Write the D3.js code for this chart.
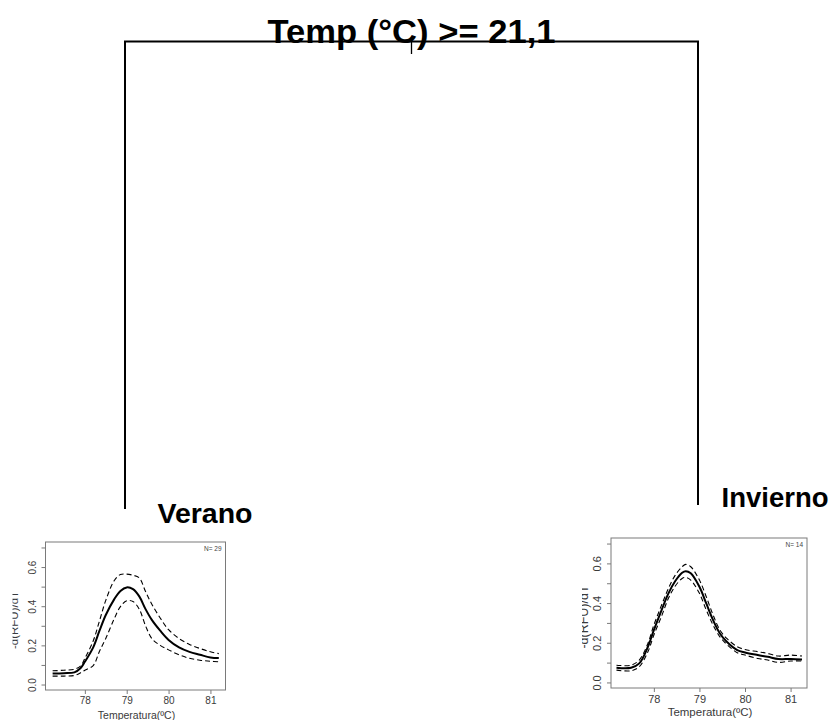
<!DOCTYPE html>
<html>
<head>
<meta charset="utf-8">
<script src="https://cdn.jsdelivr.net/npm/d3@7"></script>
<style>
  html, body { margin: 0; padding: 0; background: #fff; }
  svg { display: block; font-family: "Liberation Sans", Arial, sans-serif; }
</style>
</head>
<body>
<svg id="chart" width="840" height="720"></svg>
<script>
// Split rule of the regression tree and the labels of its two leaves
const splitLabel = "Temp (°C) >= 21,1";
const leafNames = ["Verano", "Invierno"];
const leafCounts = [29, 14];

// Axis ticks shared by both melting-curve panels
const xTicks = [78, 79, 80, 81];
const yTicks = [0, 0.1, 0.2, 0.3, 0.4, 0.5, 0.6, 0.7];
const yTickLabels = ["0.0", "", "0.2", "", "0.4", "", "0.6", ""];
const xLabel = "Temperatura(ºC)";
const yLabel = "-d(RFU)/dT";

// Verano leaf: mean melting curve with its upper and lower bands
const veranoTemp  = [77.23, 77.5, 77.75, 77.9, 78.0, 78.2, 78.35, 78.5, 78.7, 78.85, 79.0, 79.15, 79.3, 79.45, 79.6, 79.8, 80.0, 80.25, 80.5, 80.75, 81.0, 81.2];
const veranoMean  = [0.056, 0.058, 0.062, 0.084, 0.116, 0.19, 0.275, 0.355, 0.435, 0.478, 0.496, 0.487, 0.45, 0.385, 0.33, 0.275, 0.228, 0.19, 0.167, 0.152, 0.138, 0.135];
const veranoUpper = [0.07, 0.073, 0.078, 0.095, 0.133, 0.223, 0.325, 0.43, 0.53, 0.562, 0.564, 0.558, 0.545, 0.475, 0.41, 0.34, 0.28, 0.235, 0.205, 0.184, 0.167, 0.158];
const veranoLower = [0.043, 0.043, 0.046, 0.06, 0.073, 0.097, 0.17, 0.235, 0.335, 0.398, 0.428, 0.424, 0.385, 0.3, 0.235, 0.2, 0.177, 0.152, 0.134, 0.124, 0.119, 0.116];

// Invierno leaf: mean melting curve with its upper and lower bands
const inviernoTemp  = [77.18, 77.5, 77.68, 77.87, 78.0, 78.17, 78.32, 78.47, 78.62, 78.7, 78.81, 79.0, 79.15, 79.3, 79.45, 79.6, 79.83, 80.0, 80.28, 80.5, 80.73, 81.0, 81.25];
const inviernoMean  = [0.074, 0.074, 0.096, 0.18, 0.264, 0.365, 0.449, 0.511, 0.553, 0.561, 0.55, 0.482, 0.398, 0.314, 0.247, 0.205, 0.163, 0.151, 0.138, 0.129, 0.118, 0.118, 0.116];
const inviernoUpper = [0.087, 0.087, 0.113, 0.197, 0.289, 0.39, 0.474, 0.541, 0.583, 0.595, 0.583, 0.516, 0.432, 0.34, 0.264, 0.222, 0.18, 0.166, 0.155, 0.146, 0.133, 0.138, 0.133];
const inviernoLower = [0.062, 0.059, 0.079, 0.155, 0.239, 0.334, 0.424, 0.486, 0.524, 0.529, 0.516, 0.449, 0.365, 0.289, 0.23, 0.192, 0.15, 0.138, 0.121, 0.113, 0.101, 0.108, 0.108];

const svg = d3.select("#chart");

// ---- Tree skeleton -------------------------------------------------------
const tree = { left: 125, right: 698, top: 41.5, mid: 411.5, stem: 54, leftEnd: 509, rightEnd: 505 };
const treeG = svg.append("g").attr("stroke", "#000").attr("stroke-width", 2).attr("fill", "none");
treeG.append("path")
  .attr("d", `M${tree.left},${tree.leftEnd}V${tree.top}H${tree.right}V${tree.rightEnd}`);
treeG.append("line")
  .attr("x1", tree.mid).attr("x2", tree.mid)
  .attr("y1", tree.top).attr("y2", tree.stem)
  .attr("stroke-width", 1.3);

svg.append("text")
  .attr("x", tree.mid).attr("y", 43)
  .attr("text-anchor", "middle")
  .attr("font-size", 34).attr("font-weight", "bold")
  .attr("textLength", 288).attr("lengthAdjust", "spacingAndGlyphs")
  .text(splitLabel);

// ---- Leaf panels ---------------------------------------------------------
const panels = [
  { name: leafNames[0], n: leafCounts[0], temp: veranoTemp, mean: veranoMean, upper: veranoUpper, lower: veranoLower,
    x0: 45.5, x1: 225.5, y0: 542, y1: 690, fs: 10, titleX: 205, titleY: 523, titleSize: 28.5,
    yLabX: 17.5, clipX: 12.5, xLabY: 718.5 },
  { name: leafNames[1], n: leafCounts[1], temp: inviernoTemp, mean: inviernoMean, upper: inviernoUpper, lower: inviernoLower,
    x0: 611, x1: 807, y0: 538, y1: 688, fs: 11, titleX: 775, titleY: 507, titleSize: 27.5,
    yLabX: 587.5, clipX: 582, xLabY: 716 }
];

const axisGrey = "#7a7a7a";
const labelGrey = "#3a3a3a";

panels.forEach((p, i) => {
  const x = d3.scaleLinear().domain([77.06, 81.36]).range([p.x0, p.x1]);
  const y = d3.scaleLinear().domain([-0.028, 0.728]).range([p.y1, p.y0]);
  const g = svg.append("g");

  // leaf title
  svg.append("text")
    .attr("x", p.titleX).attr("y", p.titleY)
    .attr("text-anchor", "middle")
    .attr("font-size", p.titleSize).attr("font-weight", "bold")
    .text(p.name);

  // plot frame
  g.append("rect")
    .attr("x", p.x0).attr("y", p.y0)
    .attr("width", p.x1 - p.x0).attr("height", p.y1 - p.y0)
    .attr("fill", "none").attr("stroke", axisGrey).attr("stroke-width", 1);

  // bottom axis
  const xAxis = g.append("g")
    .attr("transform", `translate(0,${p.y1})`)
    .call(d3.axisBottom(x).tickValues(xTicks).tickSize(4).tickPadding(3).tickFormat(d3.format("d")));
  xAxis.select(".domain").remove();
  xAxis.selectAll("line").attr("stroke", axisGrey);
  xAxis.selectAll("text").attr("fill", labelGrey).attr("font-size", p.fs)
    .attr("font-family", "Liberation Sans, Arial, sans-serif");

  // left axis with rotated labels
  const yAxis = g.append("g")
    .attr("transform", `translate(${p.x0},0)`)
    .call(d3.axisLeft(y).tickValues(yTicks).tickSize(4).tickFormat((d, k) => yTickLabels[k]));
  yAxis.select(".domain").remove();
  yAxis.selectAll("line").attr("stroke", axisGrey);
  yAxis.selectAll("text")
    .attr("fill", labelGrey).attr("font-size", p.fs)
    .attr("font-family", "Liberation Sans, Arial, sans-serif")
    .attr("text-anchor", "middle")
    .attr("x", null).attr("dy", null)
    .attr("transform", "translate(-10,0) rotate(-90)");

  // axis titles
  g.append("text")
    .attr("x", (p.x0 + p.x1) / 2 + 1).attr("y", p.xLabY)
    .attr("text-anchor", "middle").attr("font-size", p.fs + 0.5)
    .attr("fill", labelGrey)
    .text(xLabel);

  // y title, trimmed along its top edge
  const clipId = "ylab-clip-" + i;
  svg.append("clipPath").attr("id", clipId)
    .append("rect").attr("x", p.clipX).attr("y", p.y0).attr("width", 40).attr("height", p.y1 - p.y0);
  g.append("g").attr("clip-path", `url(#${clipId})`)
    .append("text")
    .attr("transform", `translate(${p.yLabX},${(p.y0 + p.y1) / 2 + 4}) rotate(-90)`)
    .attr("text-anchor", "middle").attr("font-size", p.fs + 1.5)
    .attr("fill", labelGrey)
    .text(yLabel);

  // sample size
  g.append("text")
    .attr("x", p.x1 - 4).attr("y", p.y0 + 9)
    .attr("text-anchor", "end").attr("font-size", 6.5)
    .attr("fill", "#444")
    .text("N= " + p.n);

  // curves
  const line = d3.line()
    .x(d => x(d[0])).y(d => y(d[1]))
    .curve(d3.curveCatmullRom.alpha(0.5));
  const series = arr => p.temp.map((t, k) => [t, arr[k]]);

  g.append("path").datum(series(p.upper))
    .attr("d", line).attr("fill", "none").attr("stroke", "#000")
    .attr("stroke-width", 1.1).attr("stroke-dasharray", "5,3");
  g.append("path").datum(series(p.lower))
    .attr("d", line).attr("fill", "none").attr("stroke", "#000")
    .attr("stroke-width", 1.1).attr("stroke-dasharray", "5,3");
  g.append("path").datum(series(p.mean))
    .attr("d", line).attr("fill", "none").attr("stroke", "#000")
    .attr("stroke-width", 2);
});
</script>
</body>
</html>
